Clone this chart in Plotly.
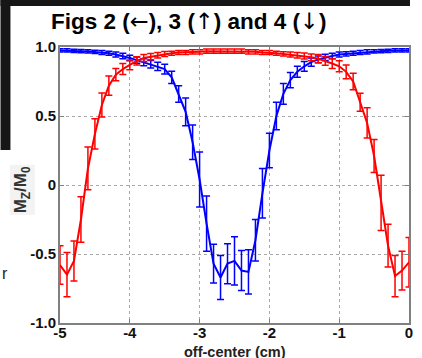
import plotly.graph_objects as go

# ---------------- data ----------------
x_cm = [-5.0, -4.9, -4.8, -4.7, -4.6, -4.5, -4.4, -4.3, -4.2, -4.1,
        -4.0, -3.9, -3.8, -3.7, -3.6, -3.5, -3.4, -3.3, -3.2, -3.1,
        -3.0, -2.9, -2.8, -2.7, -2.6, -2.5, -2.4, -2.3, -2.2, -2.1,
        -2.0, -1.9, -1.8, -1.7, -1.6, -1.5, -1.4, -1.3, -1.2, -1.1,
        -1.0, -0.9, -0.8, -0.7, -0.6, -0.5, -0.4, -0.3, -0.2, -0.1, 0.0]

red_mz = [-0.58, -0.65, -0.55, -0.25, 0.12, 0.37, 0.58, 0.72, 0.80, 0.84,
          0.87, 0.90, 0.92, 0.93, 0.94, 0.95, 0.955, 0.96, 0.96, 0.965,
          0.965, 0.97, 0.97, 0.97, 0.97, 0.97, 0.97, 0.965, 0.965, 0.96,
          0.96, 0.955, 0.95, 0.945, 0.94, 0.935, 0.925, 0.915, 0.90, 0.88,
          0.86, 0.82, 0.75, 0.60, 0.45, 0.21, -0.13, -0.44, -0.66, -0.62, -0.56]

red_err = [0.14, 0.16, 0.145, 0.165, 0.155, 0.11, 0.087, 0.07, 0.045, 0.04,
           0.035, 0.03, 0.025, 0.022, 0.02, 0.018, 0.015, 0.015, 0.015, 0.015,
           0.015, 0.015, 0.015, 0.015, 0.015, 0.015, 0.015, 0.015, 0.015, 0.015,
           0.015, 0.015, 0.015, 0.018, 0.02, 0.022, 0.025, 0.03, 0.032, 0.035,
           0.04, 0.05, 0.06, 0.065, 0.11, 0.12, 0.2, 0.155, 0.15, 0.14, 0.18]

blue_mz = [0.975, 0.975, 0.972, 0.97, 0.968, 0.965, 0.96, 0.955, 0.945, 0.935,
           0.92, 0.905, 0.89, 0.875, 0.86, 0.84, 0.78, 0.66, 0.53, 0.31,
           0.04, -0.28, -0.57, -0.67, -0.57, -0.55, -0.62, -0.63, -0.40, -0.06,
           0.25, 0.50, 0.66, 0.76, 0.82, 0.86, 0.89, 0.91, 0.925, 0.935,
           0.945, 0.95, 0.955, 0.96, 0.965, 0.968, 0.97, 0.972, 0.975, 0.975, 0.975]

blue_err = [0.012, 0.012, 0.012, 0.012, 0.012, 0.012, 0.015, 0.015, 0.018, 0.02,
            0.02, 0.022, 0.025, 0.028, 0.03, 0.035, 0.045, 0.06, 0.1, 0.125,
            0.2, 0.2, 0.14, 0.16, 0.145, 0.175, 0.145, 0.16, 0.15, 0.18,
            0.125, 0.1, 0.075, 0.055, 0.04, 0.035, 0.03, 0.025, 0.022, 0.02,
            0.018, 0.015, 0.015, 0.015, 0.015, 0.012, 0.012, 0.012, 0.012, 0.012, 0.012]

x_ticks = [-5, -4, -3, -2, -1, 0]
x_tick_labels = ["-5", "-4", "-3", "-2", "-1", "0"]
y_ticks = [-1.0, -0.5, 0.0, 0.5, 1.0]
y_tick_labels = ["-1.0", "-0.5", "0", "0.5", "1.0"]

ARROW = "<span style=\"font-family:'DejaVu Sans';font-weight:normal\">%s</span>"
title_text = ("Figs 2 (" + ARROW % "\u2190" + "), 3 (" + ARROW % "\u2191"
              + ") and 4 (" + ARROW % "\u2193" + ")")
x_label = "off-center (cm)"
y_label = "M<sub>Z</sub>/M<sub>0</sub>"

# ---------------- figure ----------------
FONT = "Liberation Sans, Arial, sans-serif"
BLUE = "#0000ff"
RED = "#ff0000"

fig = go.Figure()
fig.add_trace(go.Scatter(
    x=x_cm, y=blue_mz, mode="lines",
    line=dict(color=BLUE, width=2),
    error_y=dict(type="data", array=blue_err, visible=True,
                 color=BLUE, thickness=1.5, width=3.5),
    hoverinfo="skip"))
fig.add_trace(go.Scatter(
    x=x_cm, y=red_mz, mode="lines",
    line=dict(color=RED, width=2),
    error_y=dict(type="data", array=red_err, visible=True,
                 color=RED, thickness=1.5, width=3.5),
    hoverinfo="skip"))

axis_common = dict(
    showgrid=True, gridcolor="#a8a8a8", griddash="dot", gridwidth=1,
    showline=True, linecolor="#808080", linewidth=2, mirror="ticks",
    ticks="inside", ticklen=4, tickcolor="#808080",
    zeroline=False,
    tickfont=dict(family=FONT, size=15, color="#111111", weight="bold"),
)

fig.update_layout(
    width=422, height=358,
    margin=dict(l=60, r=9, t=47, b=35),
    paper_bgcolor="white", plot_bgcolor="white",
    showlegend=False,
    xaxis=dict(range=[-5, 0], tickvals=x_ticks, ticktext=x_tick_labels,
               ticklabelstandoff=-5, **axis_common),
    yaxis=dict(range=[-1, 1], tickvals=y_ticks, ticktext=y_tick_labels,
               ticklabelstandoff=-1, **axis_common),
)

# dark slide background pieces around the pasted chart
fig.add_shape(type="rect", xref="paper", yref="paper",
              x0=-0.1705, x1=1.0028, y0=1.1486, y1=1.1703,
              fillcolor="#161616", line_width=0, layer="above")
fig.add_shape(type="rect", xref="paper", yref="paper",
              x0=-0.1705, x1=-0.1420, y0=0.6268, y1=1.1703,
              fillcolor="#161616", line_width=0, layer="above")

annotations = [
    dict(text="<b>" + title_text + "</b>", xref="paper", yref="paper",
         x=(49 - 60) / 352, y=(323 - 21) / 276, xanchor="left", yanchor="middle",
         showarrow=False, font=dict(family=FONT, size=22.5, color="#000000")),
    dict(text="<b>" + x_label + "</b>", xref="paper", yref="paper",
         x=0.5, y=(323 - 352) / 276, xanchor="center", yanchor="middle",
         showarrow=False, font=dict(family=FONT, size=14.5, color="#222222")),
    dict(text="<b>" + y_label + "</b>", xref="paper", yref="paper",
         x=(22 - 60) / 352, y=(323 - 190) / 276, xanchor="center", yanchor="middle",
         textangle=-90, showarrow=False, bgcolor="#f3f3f3",
         font=dict(family=FONT, size=17, color="#333333")),
    dict(text="r", xref="paper", yref="paper",
         x=(5 - 60) / 352, y=(323 - 273) / 276, xanchor="center", yanchor="middle",
         showarrow=False, font=dict(family=FONT, size=16, color="#222222")),
]
fig.update_layout(annotations=annotations)

fig.write_html("out.html", config={"displayModeBar": False, "staticPlot": True},
               post_script="document.body.style.margin='0';document.body.style.overflow='hidden';")
